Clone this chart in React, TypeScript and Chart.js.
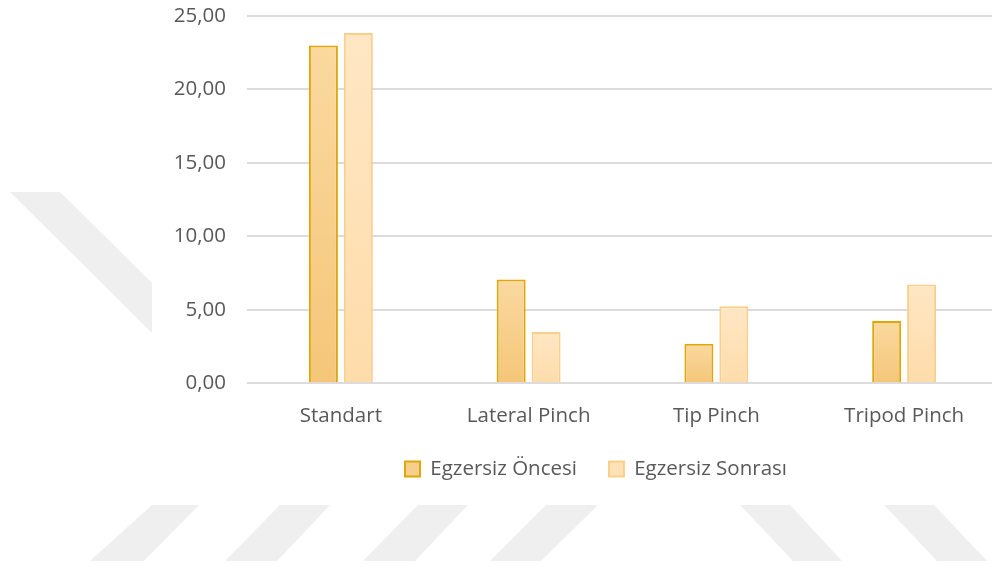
import { useEffect, useRef } from "react";
import { Chart, registerables } from "chart.js";

Chart.register(...registerables);

// Grip strength measurements before and after the exercise programme
const categories = ["Standart", "Lateral Pinch", "Tip Pinch", "Tripod Pinch"];
const seriesNames = ["Egzersiz Öncesi", "Egzersiz Sonrası"];
const beforeValues = [23.0, 7.06, 2.7, 4.24];
const afterValues = [23.85, 3.49, 5.24, 6.72];
const yMin = 0;
const yMax = 25;
const yStep = 5;

const FONT = "'Open Sans', 'Noto Sans', sans-serif";
const TEXT = "#595959";

const beforeStyle = { top: "#fad99f", bottom: "#f5c679", border: "#e0a70a", legend: "#f7cf8c" };
const afterStyle = { top: "#ffe7c4", bottom: "#fedcaa", border: "#fbcf8a", legend: "#fee2b7" };

// Vertical gradient spanning each bar from its value down to the baseline
function barFill(top: string, bottom: string) {
  return (c: any) => {
    const chart = c.chart;
    const y = chart.scales && chart.scales.y;
    if (c.type !== "data" || !y || c.raw == null) return bottom;
    const g = chart.ctx.createLinearGradient(0, y.getPixelForValue(c.raw), 0, y.getPixelForValue(0));
    g.addColorStop(0, top);
    g.addColorStop(1, bottom);
    return g;
  };
}

// Faint diagonal page stripes behind a white chart sheet
const stripes: number[][][] = [
  [[10, 192], [60, 192], [152, 283], [152, 333]],
  [[152, 505], [199, 505], [144, 561], [90, 561]],
  [[280, 505], [330, 505], [277, 561], [225, 561]],
  [[418, 505], [468, 505], [415, 561], [363, 561]],
  [[546, 505], [598, 505], [541, 561], [490, 561]],
  [[740, 505], [790, 505], [842, 561], [793, 561]],
  [[884, 505], [934, 505], [987, 561], [937, 561]],
];

const pageBackground = {
  id: "pageBackground",
  beforeDraw(chart: any) {
    const ctx = chart.ctx;
    ctx.save();
    ctx.fillStyle = "#ffffff";
    ctx.fillRect(0, 0, chart.width, chart.height);
    ctx.fillStyle = "#efefef";
    for (const poly of stripes) {
      ctx.beginPath();
      poly.forEach(([x, y], i) => (i === 0 ? ctx.moveTo(x, y) : ctx.lineTo(x, y)));
      ctx.closePath();
      ctx.fill();
    }
    ctx.fillStyle = "#ffffff";
    ctx.fillRect(152, 0, chart.width - 152, 505);
    ctx.restore();
  },
};

// Place the legend row under the sheet, centred on it
const legendPlacement = {
  id: "legendPlacement",
  afterLayout(chart: any) {
    const lg = chart.legend;
    if (lg) {
      const h = lg.height;
      lg.left = 192;
      lg.right = 1000;
      lg.top = 426.75;
      lg.bottom = lg.top + h;
    }
  },
};

export default function App() {
  const canvasRef = useRef<HTMLCanvasElement | null>(null);

  useEffect(() => {
    if (!canvasRef.current) return;
    const chart = new Chart(canvasRef.current, {
      type: "bar",
      data: {
        labels: categories,
        datasets: [
          {
            label: seriesNames[0],
            data: beforeValues,
            backgroundColor: barFill(beforeStyle.top, beforeStyle.bottom),
            borderColor: beforeStyle.border,
            borderWidth: 2,
            borderSkipped: "start",
          },
          {
            label: seriesNames[1],
            data: afterValues,
            backgroundColor: barFill(afterStyle.top, afterStyle.bottom),
            borderColor: afterStyle.border,
            borderWidth: 2,
            borderSkipped: "start",
          },
        ],
      },
      options: {
        animation: false,
        responsive: false,
        devicePixelRatio: 1,
        categoryPercentage: 0.372,
        barPercentage: 0.83,
        layout: { padding: { top: 16, right: 2, bottom: 71.2, left: 0 } },
        plugins: {
          tooltip: { enabled: false },
          legend: {
            position: "bottom",
            labels: {
              font: { family: FONT, size: 20.5 },
              color: TEXT,
              boxWidth: 15,
              boxHeight: 15,
              padding: 32,
              generateLabels: () => [
                { text: seriesNames[0], fillStyle: beforeStyle.legend, strokeStyle: beforeStyle.border, lineWidth: 2, fontColor: TEXT, datasetIndex: 0, hidden: false },
                { text: seriesNames[1], fillStyle: afterStyle.legend, strokeStyle: afterStyle.border, lineWidth: 2, fontColor: TEXT, datasetIndex: 1, hidden: false },
              ],
            },
          },
        },
        scales: {
          x: {
            grid: { display: false },
            border: { display: false },
            ticks: { font: { family: FONT, size: 20.5 }, color: TEXT, padding: 13, maxRotation: 0 },
            afterFit: (s: any) => {
              s.height = 50;
            },
          },
          y: {
            min: yMin,
            max: yMax,
            grid: { color: "#dcdcdc", lineWidth: 2, drawTicks: false },
            border: { display: false },
            ticks: {
              stepSize: yStep,
              padding: 21,
              font: { family: FONT, size: 20.5 },
              color: TEXT,
              callback: (v: any) => Number(v).toFixed(2).replace(".", ","),
            },
            afterFit: (s: any) => {
              s.width = 247;
              s.paddingTop = 0;
              s.paddingBottom = 0;
            },
          },
        },
      },
      plugins: [pageBackground, legendPlacement],
    });
    return () => chart.destroy();
  }, []);

  return (
    <div
      style={{
        position: "fixed",
        left: 0,
        top: 0,
        width: 992,
        height: 567,
        overflow: "hidden",
        background: "#fff",
      }}
    >
      <canvas ref={canvasRef} width={1000} height={567} style={{ display: "block", width: 1000, height: 567 }} />
    </div>
  );
}
